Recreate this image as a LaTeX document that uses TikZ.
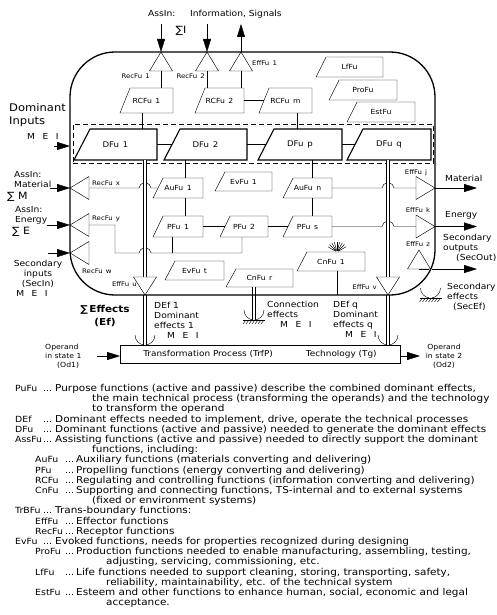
\documentclass[tikz,border=0pt]{standalone}
\usepackage{fontspec}
\setmainfont{DejaVu Sans}[FakeStretch=1.1]
\usetikzlibrary{shapes.geometric,arrows.meta,calc}

\newcommand\mei{M\hspace{0.9em}E\hspace{0.9em}I}
\newcommand\lgkey{\fontsize{8.5}{10.2}\selectfont}
\newcommand\lgm[2]{\makebox[28pt][l]{\lgkey #1}\makebox[12pt][l]{\lgkey ...}#2}
\newcommand\lgs[2]{\hspace*{20pt}\makebox[30pt][l]{\lgkey #1}\makebox[11pt][l]{\lgkey ...}#2}
\newcommand\lgc[2][77pt]{\hspace*{#1}#2}
\newcommand\gnd[1]{%
  \draw (#1) ++(-11,0) -- ++(22,0);
  \foreach \i in {0,...,6} \draw (#1) ++(-8+3*\i,0) -- ++(-3,4);
  \draw (#1) ++(10,-10) arc[start angle=0, end angle=180, radius=10];
}

\begin{document}
\begin{tikzpicture}[x=1pt, y=-1pt, line width=0.45pt,
  lbl/.style={inner sep=0pt, font=\fontsize{8.3}{10}\selectfont},
  big/.style={inner sep=0pt, font=\fontsize{10.5}{13.5}\selectfont},
  sm/.style={inner sep=0pt, font=\fontsize{7}{9}\selectfont},
  sumlbl/.style={inner sep=0pt, font=\fontsize{10}{12}\selectfont},
  tl/.style={inner sep=0pt, font=\fontsize{6.3}{7}\selectfont},
  fu/.style={inner sep=0pt, outer sep=0pt, anchor=south east, font=\fontsize{7}{8}\selectfont},
  dfu/.style={fu, font=\fontsize{7.8}{9}\selectfont},
  tri/.style={draw, isosceles triangle, isosceles triangle stretches,
    inner sep=0pt, outer sep=0pt, minimum width=23pt, minimum height=19pt, anchor=apex},
  arr/.style={-{Triangle[length=13pt,width=8pt]}},
  dbl/.style={double, double distance=2.4pt},
  hop/.style={insert path={arc[start angle=180, end angle=360, x radius=6, y radius=5]}},
  legend/.style={align=left, inner sep=0pt, font=\fontsize{9.5}{10.2}\selectfont}]
  \useasboundingbox (0,0) rectangle (496,615);

  % dominant functions zone
  \node[draw, dash pattern=on 5pt off 3pt, minimum width=360pt, minimum height=39pt,
    inner sep=0pt, outer sep=0pt] (dfzone) at (252.75,143.5) {};

  % function boxes (outlines drawn below)
  \node[dfu, minimum width=83pt, minimum height=31pt] (dfu1) at (157,160) {DFu\enspace 1};
  \node[dfu, minimum width=83pt, minimum height=31pt] (dfu2) at (247,160) {DFu\enspace 2};
  \node[dfu, minimum width=84pt, minimum height=31pt] (dfup) at (342,160) {DFu\enspace p};
  \node[dfu, minimum width=84pt, minimum height=31pt] (dfuq) at (431,160) {DFu\enspace q};
  \node[fu, minimum width=53pt, minimum height=25pt] (rcfu1) at (173,113) {RCFu\enspace 1};
  \node[fu, minimum width=49pt, minimum height=25pt] (rcfu2) at (244,113) {RCFu\enspace 2};
  \node[fu, minimum width=53pt, minimum height=25pt] (rcfum) at (312,113) {RCFu\enspace m};
  \node[fu, minimum width=67pt, minimum height=20pt] (lffu) at (383,77) {LfFu};
  \node[fu, minimum width=68pt, minimum height=20pt] (profu) at (397,100) {ProFu};
  \node[fu, minimum width=68pt, minimum height=20pt] (estfu) at (415,122) {EstFu};
  \node[fu, minimum width=50pt, minimum height=20pt] (aufu1) at (203,198) {AuFu\enspace 1};
  \node[fu, minimum width=57pt, minimum height=19pt] (evfu1) at (272,191) {EvFu\enspace 1};
  \node[fu, minimum width=49pt, minimum height=20pt] (aufun) at (332,198) {AuFu\enspace n};
  \node[fu, minimum width=50pt, minimum height=21pt] (pfu1) at (203,237) {PFu\enspace 1};
  \node[fu, minimum width=48pt, minimum height=21pt] (pfu2) at (268,237) {PFu\enspace 2};
  \node[fu, minimum width=49pt, minimum height=21pt] (pfus) at (332,237) {PFu\enspace s};
  \node[fu, minimum width=59pt, minimum height=19pt] (evfut) at (224,280) {EvFu\enspace t};
  \node[fu, minimum width=67pt, minimum height=18pt] (cnfur) at (293,287) {CnFu\enspace r};
  \node[fu, minimum width=68pt, minimum height=19pt] (cnfu1) at (365,271) {CnFu\enspace 1};
  \foreach \n in {dfu1,dfu2,dfup,dfuq}
    \draw[line width=1.1pt] (\n.south west) -- ([xshift=16pt]\n.north west) -- (\n.north east) -- (\n.south east) -- cycle;
  \foreach \n in {rcfu1,rcfu2,rcfum,lffu,profu,estfu,aufu1,evfu1,aufun,pfu1,pfu2,pfus,evfut,cnfur,cnfu1}
    \draw (\n.south west) -- ([xshift=10pt]\n.north west) -- (\n.north east) -- (\n.south east) -- cycle;

  % trans-boundary functions
  \node[tri, shape border rotate=90] (rec1) at (161,52) {};
  \node[tri, shape border rotate=90] (rec2) at (207,52) {};
  \node[tri, shape border rotate=90] (eff1) at (241,52) {};
  \node[tri, shape border rotate=180] (recx) at (70,188) {};
  \node[tri, shape border rotate=180] (recy) at (70,225) {};
  \node[tri, shape border rotate=180] (recw) at (70,253) {};
  \node[tri] (effj) at (435,188) {};
  \node[tri] (effk) at (435,226.5) {};
  \node[tri, shape border rotate=90] (effz) at (419,250) {};
  \node[tri, shape border rotate=270, minimum height=18pt] (effu) at (145,295) {};
  \node[tri, shape border rotate=270, minimum height=18pt] (effv) at (388,295) {};

  \node[tl, anchor=north east] (rec1l) at (150,74) {RecFu\enspace 1};
  \node[tl, anchor=north east] (rec2l) at (205,74) {RecFu\enspace 2};
  \node[tl, anchor=west] (eff1l) at (252,63) {EffFu\enspace 1};
  \node[tl, anchor=south west] (recxl) at (92,186) {RecFu\enspace x};
  \node[tl, anchor=south west] (recyl) at (92,222) {RecFu\enspace y};
  \node[tl, anchor=west] (recwl) at (82,271) {RecFu\enspace w};
  \node[tl, anchor=east] (efful) at (137,284) {EffFu\enspace u};
  \node[tl, anchor=east] (effvl) at (377,287) {EffFu\enspace v};
  \node[tl] (effjl) at (416,173) {EffFu\enspace j};
  \node[tl] (effkl) at (418,210) {EffFu\enspace k};
  \node[tl] (effzl) at (418,244) {EffFu\enspace z};

  % transformation process
  \node[draw, minimum width=280pt, minimum height=18pt, inner sep=0pt, outer sep=0pt,
    font=\fontsize{8.1}{9}\selectfont] (trfp) at (260,354)
    {Transformation Process (TrfP)\hspace{33pt}Technology (Tg)};

  % free ends
  \coordinate (in1) at (161,24);
  \coordinate (in2) at (207,24);
  \coordinate (out1) at (241,24);
  \coordinate (inD) at (54,146);
  \coordinate (inM) at (50,188);
  \coordinate (inE) at (47,225);
  \coordinate (inS) at (48,253);
  \coordinate (outM) at (477,188);
  \coordinate (outE) at (477,226.5);
  \coordinate (outS) at (477,269);
  \coordinate (od1) at (97,356);
  \coordinate (od2) at (420,356);
  \coordinate (ybus) at (115,253);
  \coordinate (gndC) at (254,320);

  % information
  \draw[arr] (in1) -- (rec1.apex);
  \draw[arr] (in2) -- (rec2.apex);
  \draw[arr] (eff1.apex) -- (out1);
  \draw (rec1.lower side) -- (rec1.lower side |- rcfu1.north);
  \draw (rec2.lower side) -- (rec2.lower side |- rcfu2.north);
  \draw (eff1.lower side) -- (eff1.lower side |- rcfu2.north);
  \draw (rcfu2.east) -- ([xshift=5pt]rcfum.west);
  \draw ([xshift=-4pt]rcfu1.south) -- ([xshift=-4pt]rcfu1.south |- dfu1.north);
  \draw ([xshift=12pt]rcfum.south) -- ([xshift=12pt]rcfum.south |- dfup.north);
  \draw (dfu1.east) -- ([xshift=8pt]dfu2.west);
  \draw (dfu2.east) -- ([xshift=8pt]dfup.west);
  \draw (dfup.east) -- ([xshift=8pt]dfuq.west);

  % material and energy
  \draw[arr] (inM) -- (recx.apex);
  \draw[arr] (inE) -- (recy.apex);
  \draw[arr] (inS) -- (recw.apex);
  \draw (recx.lower side) -- ($(recx.lower side -| effu.lower side)+(-6,0)$) [hop] -- ([xshift=5pt]aufu1.west);
  \draw (recy.lower side) -| (ybus) -- ($(ybus -| effu.lower side)+(-6,0)$) [hop] -| ([xshift=-2pt]pfu2.south);
  \draw (ybus -| pfu1.south) ++(-6,0) -- ([xshift=-6pt]pfu1.south);
  \draw ([xshift=7pt]aufu1.north |- dfu2.south) -- ([xshift=7pt]aufu1.north);
  \draw ([xshift=7pt]aufu1.south) -- ([xshift=7pt]aufu1.south |- pfu1.north);
  \draw ([xshift=4.5pt]aufun.north |- dfup.south) -- ([xshift=4.5pt]aufun.north);
  \draw ([xshift=4.5pt]aufun.south) -- ([xshift=4.5pt]aufun.south |- pfus.north);
  \draw (pfu1.east) -- ([xshift=5pt]pfu2.west);
  \draw (pfu2.east) -- ([xshift=5pt]pfus.west);
  \draw (aufun.east) -- ($(aufun.east -| effv.lower side)+(-6,0)$) [hop] -- (effj.lower side);
  \draw (pfus.east) -- ($(pfus.east -| effv.lower side)+(-6,0)$) [hop] -- (effk.lower side);
  \draw[arr] (effj.apex) -- (outM);
  \draw[arr] (effk.apex) -- (outE);
  \draw[arr] (effz.lower side) -- (outS);

  % effects
  \draw (effu.apex |- trfp.north) ++(10,-10) arc[start angle=0, end angle=180, radius=10];
  \draw (effv.apex |- trfp.north) ++(10,-10) arc[start angle=0, end angle=180, radius=10];
  \gnd{gndC}
  \gnd{effz.right corner |- 0,298}
  \draw[dbl] (effu.lower side |- dfu1.south) -- (effu.lower side);
  \draw[dbl] (effu.apex) -- (effu.apex |- trfp.north);
  \draw[dbl] (effv.lower side |- dfuq.south) -- (effv.lower side);
  \draw[dbl] (effv.apex) -- (effv.apex |- trfp.north);
  \draw[dbl] (cnfur.south -| gndC) -- (gndC);
  \draw[dbl] (effz.right corner) -- (effz.right corner |- 0,298);
  \foreach \a in {210,225,...,330} \draw ([xshift=6pt]cnfu1.north) ++(\a:1.5) -- ++(\a:9);

  % technical system boundary
  \node[draw, line width=1.3pt, rounded corners=45pt, minimum width=365pt, minimum height=243pt,
    inner sep=0pt, outer sep=0pt] (ts) at (252.5,173.5) {};
  \draw[arr] (inD) -- (inD -| ts.west);
  \draw ([xshift=6pt]cnfu1.south) -- ([xshift=6pt]cnfu1.south |- ts.south);
  \draw[arr] (od1) -- (od1 -| trfp.west);
  \draw[arr] (trfp.east |- od2) -- (od2);

  % texts
  \node[lbl, anchor=west] (assinI) at (148,14) {AssIn:};
  \node[lbl, anchor=west] (info) at (190,14) {Information, Signals};
  \node[sumlbl] (sumI) at (181,31) {∑I};
  \node[big, anchor=west, align=left] (dominp) at (9,115) {Dominant\\Inputs};
  \node[lbl, anchor=west] (meiD) at (27,136) {\mei};
  \node[lbl, anchor=west, align=left] (assinM) at (14,180) {AssIn:\\Material};
  \node[sumlbl, anchor=west] (sumM) at (7,197) {∑ M};
  \node[lbl, anchor=west, align=left] (assinE) at (15,215.5) {AssIn:\\Energy};
  \node[sumlbl, anchor=west] (sumE) at (12,232) {∑ E};
  \node[lbl, align=center] (secin) at (38,278) {Secondary\\inputs\\(SecIn)\\\mei\hspace*{12pt}};
  \node[inner sep=0pt, font=\bfseries\fontsize{9.5}{13}\selectfont, align=center] (sumEf) at (105,316) {∑\,Effects\\(Ef)};
  \node[lbl, anchor=west, align=left] (def1) at (154,320) {DEf 1\\Dominant\\effects 1\\\hspace*{13pt}\mei};
  \node[lbl, anchor=west, align=left] (defq) at (333,319) {DEf q\\Dominant\\effects q\\\hspace*{12pt}\mei};
  \node[lbl, anchor=west, align=left] (conn) at (267,314) {Connection\\effects\\\hspace*{13pt}\mei};
  \node[lbl, anchor=west] (matout) at (445,178) {Material};
  \node[lbl, anchor=west] (enout) at (445,215) {Energy};
  \node[lbl, anchor=west, align=left] (secout) at (443,248) {Secondary\\outputs\\\hspace*{13pt}(SecOut)};
  \node[lbl, anchor=west, align=left] (secef) at (447,297) {Secondary\\effects\\\hspace*{6pt}(SecEf)};
  \node[sm, anchor=west, align=left] (od1l) at (45,356) {Operand\\in state 1\\\hspace*{12pt}(Od1)};
  \node[sm, align=center] (od2l) at (444,356) {Operand\\in state 2\\(Od2)};

  % key
  \node[legend, anchor=north west] (key) at (15,384) {%
    \lgm{PuFu}{Purpose functions (active and passive) describe the combined dominant effects,}\\
    \lgc{the main technical process (transforming the operands) and the technology}\\
    \lgc{to transform the operand}\\
    \lgm{DEf}{Dominant effects needed to implement, drive, operate the technical processes}\\
    \lgm{DFu}{Dominant functions (active and passive) needed to generate the dominant effects}\\
    \lgm{AssFu}{Assisting functions (active and passive) needed to directly support the dominant}\\
    \lgc{functions, including:}\\
    \lgs{AuFu}{Auxiliary functions (materials converting and delivering)}\\
    \lgs{PFu}{Propelling functions (energy converting and delivering)}\\
    \lgs{RCFu}{Regulating and controlling functions (information converting and delivering)}\\
    \lgs{CnFu}{Supporting and connecting functions, TS-internal and to external systems}\\
    \lgc{(fixed or environment systems)}\\
    \lgm{TrBFu}{Trans-boundary functions:}\\
    \lgs{EffFu}{Effector functions}\\
    \lgs{RecFu}{Receptor functions}\\
    \lgm{EvFu}{Evoked functions, needs for properties recognized during designing}\\
    \lgs{ProFu}{Production functions needed to enable manufacturing, assembling, testing,}\\
    \lgc[91pt]{adjusting, servicing, commissioning, etc.}\\
    \lgs{LfFu}{Life functions needed to support cleaning, storing, transporting, safety,}\\
    \lgc[91pt]{reliability, maintainability, etc. of the technical system}\\
    \lgs{EstFu}{Esteem and other functions to enhance human, social, economic and legal}\\
    \lgc[91pt]{acceptance.}
  };
\end{tikzpicture}
\end{document}
